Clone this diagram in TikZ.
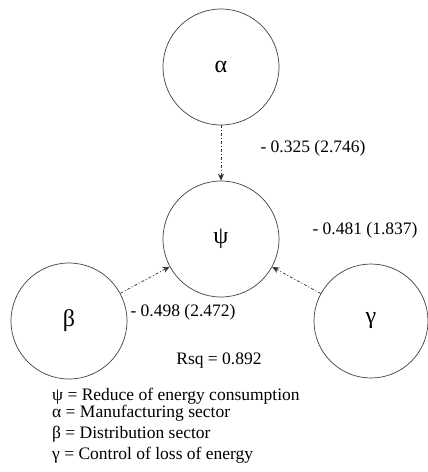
\documentclass[tikz,border=0pt]{standalone}
\usepackage{fontspec}
\setmainfont{Liberation Serif}
\usetikzlibrary{arrows.meta}
\begin{document}
\begin{tikzpicture}[x=1pt,y=-1pt,
  var/.style={circle,draw=black!75,line width=0.7pt,minimum size=116pt,inner sep=0pt,font=\fontsize{24}{26}\selectfont},
  path/.style={draw=black!80,line width=0.7pt,dash pattern=on 3pt off 2pt on 1pt off 2pt,-{Stealth[length=7pt,width=6pt]}},
  lbl/.style={font=\fontsize{17.5}{19}\selectfont,inner sep=0pt},
  leg/.style={font=\fontsize{17.5}{19}\selectfont,inner sep=0pt,anchor=west}]
\useasboundingbox (0,0) rectangle (428,472);
\node[var] (a) at (221,67) {α};
\node[var] (p) at (221,239) {ψ};
\node[var] (b) at (69,321) {β};
\node[var,minimum size=114pt] (g) at (371,321) {γ};
\draw[path] (a) -- (p);
\draw[path] (b) -- (p);
\draw[path] (g) -- (p);
\node[lbl] (la) at (313,148) {- 0.325 (2.746)};
\node[lbl] (lg) at (365,230) {- 0.481 (1.837)};
\node[lbl] (lb) at (183,312) {- 0.498 (2.472)};
\node[lbl] (rsq) at (219,361) {Rsq = 0.892};
\node[leg] (l1) at (52,396) {ψ = Reduce of energy consumption};
\node[leg] (l2) at (52,413) {α = Manufacturing sector};
\node[leg] (l3) at (52,434) {β = Distribution sector};
\node[leg] (l4) at (52,455) {γ = Control of loss of energy};
\end{tikzpicture}
\end{document}
